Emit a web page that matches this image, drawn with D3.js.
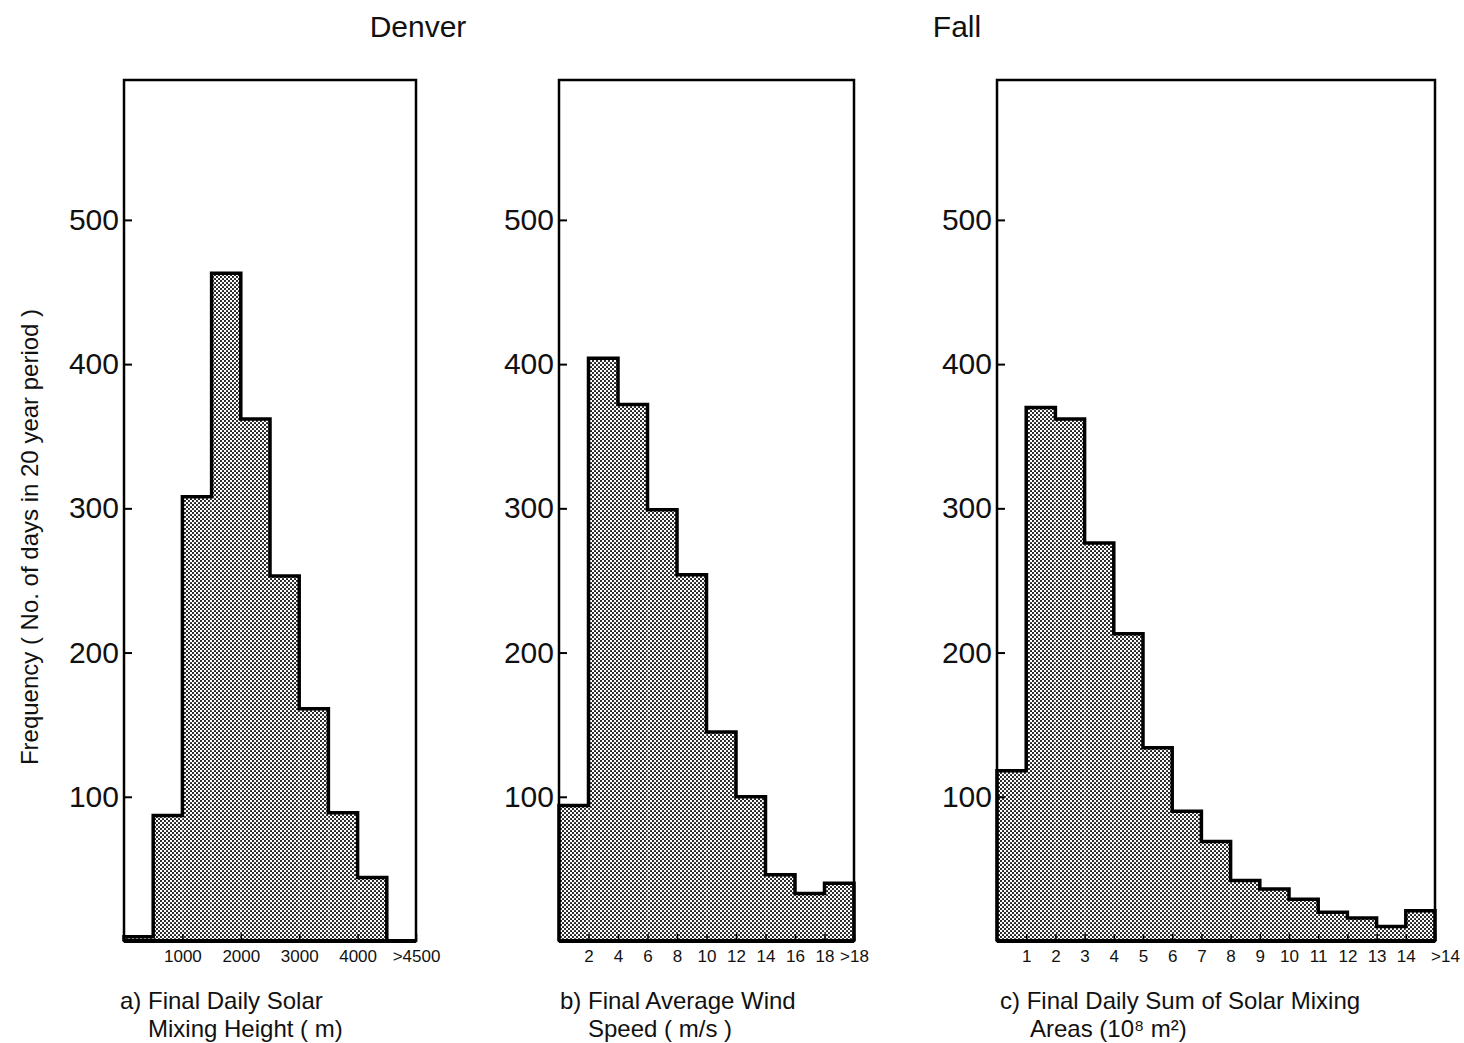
<!DOCTYPE html>
<html>
<head>
<meta charset="utf-8">
<script src="https://cdn.jsdelivr.net/npm/d3@7"></script>
<style>
  body { margin: 0; background: #fff; }
  svg text { font-family: "Liberation Sans", Arial, sans-serif; fill: #111; }
</style>
</head>
<body>
<svg id="chart" width="1464" height="1043"></svg>
<script>
// frequency counts per bin
var heightCounts = [3, 87, 308, 463, 362, 253, 161, 89, 44, 0];
var heightTicks = [1000, 2000, 3000, 4000, 5000];
var heightLabels = ["1000", "2000", "3000", "4000", ">4500"];

var windCounts = [94, 404, 372, 299, 254, 145, 100, 46, 33, 40];
var windTicks = [2, 4, 6, 8, 10, 12, 14, 16, 18, 20];
var windLabels = ["2", "4", "6", "8", "10", "12", "14", "16", "18", ">18"];

var areaCounts = [118, 370, 362, 276, 213, 134, 90, 69, 42, 36, 29, 20, 16, 10, 21];
var areaTicks = [1, 2, 3, 4, 5, 6, 7, 8, 9, 10, 11, 12, 13, 14, 15];
var areaLabels = ["1", "2", "3", "4", "5", "6", "7", "8", "9", "10", "11", "12", "13", "14", ">14"];

var freqTicks = [100, 200, 300, 400, 500];

var plotTop = 80, plotBottom = 941;

var panels = [
  {counts: heightCounts, binWidth: 500, ticks: heightTicks, labels: heightLabels,
   left: 124, right: 416, lastDx: 0, capX: [120, 148],
   caption: ["a) Final Daily Solar", "Mixing Height ( m)"]},
  {counts: windCounts, binWidth: 2, ticks: windTicks, labels: windLabels,
   left: 559, right: 854, lastDx: 0, capX: [560, 588],
   caption: ["b) Final Average Wind", "Speed ( m/s )"]},
  {counts: areaCounts, binWidth: 1, ticks: areaTicks, labels: areaLabels,
   left: 997, right: 1435, lastDx: 10, capX: [1000, 1030],
   caption: ["c) Final Daily Sum of Solar Mixing", "Areas  (10\u2078  m\u00b2)"]}
];

var svg = d3.select("#chart");

// halftone fill
var pat = svg.append("defs").append("pattern")
    .attr("id", "dots")
    .attr("patternUnits", "userSpaceOnUse")
    .attr("width", 4)
    .attr("height", 4);
pat.append("rect").attr("width", 4).attr("height", 4).attr("fill", "#fff");
pat.append("circle").attr("cx", 1).attr("cy", 1).attr("r", 1.05).attr("fill", "#111");
pat.append("circle").attr("cx", 3).attr("cy", 3).attr("r", 1.05).attr("fill", "#111");

var y = d3.scaleLinear().domain([0, 597]).range([plotBottom, plotTop]);

panels.forEach(function(p, k) {
  var n = p.counts.length;
  var x = d3.scaleLinear().domain([0, n * p.binWidth]).range([p.left, p.right]);
  var g = svg.append("g");

  // bars
  g.selectAll("rect.bar")
    .data(p.counts)
    .enter().append("rect")
    .attr("class", "bar")
    .attr("x", function(d, i) { return x(i * p.binWidth); })
    .attr("width", function(d, i) { return x((i + 1) * p.binWidth) - x(i * p.binWidth); })
    .attr("y", function(d) { return y(d); })
    .attr("height", function(d) { return y(0) - y(d); })
    .attr("fill", "url(#dots)");

  // stepped outline
  var pts = [[0, 0]];
  p.counts.forEach(function(d, i) {
    pts.push([i * p.binWidth, d]);
    pts.push([(i + 1) * p.binWidth, d]);
  });
  pts.push([n * p.binWidth, 0]);
  g.append("path")
    .datum(pts)
    .attr("fill", "none")
    .attr("stroke", "#000")
    .attr("stroke-width", 3.5)
    .attr("stroke-linejoin", "miter")
    .attr("d", d3.line().x(function(d) { return x(d[0]); }).y(function(d) { return y(d[1]); }));

  // frame
  g.append("rect")
    .attr("x", p.left).attr("y", plotTop)
    .attr("width", p.right - p.left).attr("height", plotBottom - plotTop)
    .attr("fill", "none").attr("stroke", "#000").attr("stroke-width", 2.5);
  g.append("line")
    .attr("x1", p.left).attr("x2", p.right)
    .attr("y1", plotBottom).attr("y2", plotBottom)
    .attr("stroke", "#000").attr("stroke-width", 4);

  // y axis, ticks pointing inward
  var ya = g.append("g")
    .attr("transform", "translate(" + p.left + ",0)")
    .call(d3.axisRight(y).tickValues(freqTicks).tickSize(8).tickFormat(d3.format("d")));
  ya.select(".domain").remove();
  ya.selectAll("line").attr("stroke", "#000").attr("stroke-width", 2);
  ya.selectAll("text")
    .attr("x", -5)
    .attr("text-anchor", "end")
    .style("font-size", "30px");

  // x axis, ticks pointing up
  var xa = g.append("g")
    .attr("transform", "translate(0," + plotBottom + ")")
    .call(d3.axisBottom(x).tickValues(p.ticks).tickSize(-7).tickPadding(9)
      .tickFormat(function(d, i) { return p.labels[i]; }));
  xa.select(".domain").remove();
  xa.selectAll("line").attr("stroke", "#000").attr("stroke-width", 1.5);
  xa.selectAll("text")
    .style("font-size", "17px")
    .attr("dx", function(d, i) { return i == p.ticks.length - 1 ? p.lastDx : 0; });

  // caption
  g.append("text")
    .attr("x", p.capX[0]).attr("y", 1009)
    .style("font-size", "24px")
    .text(p.caption[0]);
  g.append("text")
    .attr("x", p.capX[1]).attr("y", 1037)
    .style("font-size", "24px")
    .text(p.caption[1]);
});

svg.append("text")
  .attr("x", 418).attr("y", 37)
  .attr("text-anchor", "middle")
  .style("font-size", "30px")
  .text("Denver");

svg.append("text")
  .attr("x", 957).attr("y", 37)
  .attr("text-anchor", "middle")
  .style("font-size", "30px")
  .text("Fall");

svg.append("text")
  .attr("transform", "translate(38,537) rotate(-90)")
  .attr("text-anchor", "middle")
  .style("font-size", "24px")
  .text("Frequency ( No. of days in 20 year period )");
</script>
</body>
</html>
